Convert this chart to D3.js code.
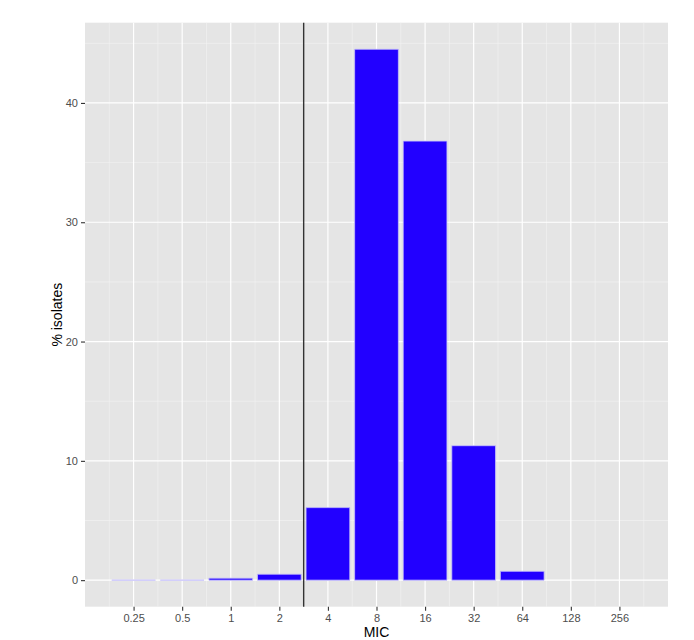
<!DOCTYPE html>
<html>
<head>
<meta charset="utf-8">
<script src="https://cdn.jsdelivr.net/npm/d3@7"></script>
<style>
  body{margin:0;background:#fff;}
  text{font-family:"Liberation Sans",Arial,sans-serif;}
</style>
</head>
<body>
<div id="chart"></div>
<script>
// MIC values with measured isolates (%)
const mic = [0.25, 0.5, 1, 2, 4, 8, 16, 32, 64]
const pct = [0, 0, 0.17, 0.5, 6.08, 44.5, 36.8, 11.27, 0.74]
const xTicks = [0.25, 0.5, 1, 2, 4, 8, 16, 32, 64, 128, 256]
const yTicks = [0, 10, 20, 30, 40]
const breakpoint = 2.83

let width = 694,
    height = 640,
    margin = {top:22.7, left:85, right:26, bottom:33.3},
    barHalf = 0.45  // half bar width in log2 units

const svg = d3.select("#chart").append("svg")
  .attr("width",width).attr("height",height)

const x = d3.scaleLog().base(2)
  .domain([0.125, 512])
  .range([margin.left, width - margin.right])

const ymax = d3.max(pct)
const y = d3.scaleLinear()
  .domain([-ymax*0.05, ymax*1.05])
  .range([height - margin.bottom, margin.top])

// panel
svg.append("rect")
  .attr("x",margin.left).attr("y",margin.top)
  .attr("width",width - margin.left - margin.right)
  .attr("height",height - margin.top - margin.bottom)
  .attr("fill","#e5e5e5")

// minor grid
const xMinor = d3.range(-2.5, 9, 1).map(v=>Math.pow(2,v))
const yMinor = [5, 15, 25, 35, 45]
svg.append("g").selectAll("line").data(xMinor).join("line")
  .attr("x1",d=>x(d)).attr("x2",d=>x(d))
  .attr("y1",margin.top).attr("y2",height - margin.bottom)
  .attr("stroke","#f4f4f4").attr("stroke-width",0.6)
svg.append("g").selectAll("line").data(yMinor).join("line")
  .attr("x1",margin.left).attr("x2",width - margin.right)
  .attr("y1",d=>y(d)).attr("y2",d=>y(d))
  .attr("stroke","#f4f4f4").attr("stroke-width",0.6)

// major grid
svg.append("g").selectAll("line").data(xTicks).join("line")
  .attr("x1",d=>x(d)).attr("x2",d=>x(d))
  .attr("y1",margin.top).attr("y2",height - margin.bottom)
  .attr("stroke","#fff").attr("stroke-width",1.2)
svg.append("g").selectAll("line").data(yTicks).join("line")
  .attr("x1",margin.left).attr("x2",width - margin.right)
  .attr("y1",d=>y(d)).attr("y2",d=>y(d))
  .attr("stroke","#fff").attr("stroke-width",1.2)

// bars (path so zero-height bars still show their outline)
svg.append("g").selectAll("path").data(mic).join("path")
  .attr("d",(d,i)=>{
    const x0 = x(d*Math.pow(2,-barHalf)), x1 = x(d*Math.pow(2,barHalf))
    const y0 = y(0), y1 = y(pct[i])
    return `M${x0},${y0}L${x1},${y0}L${x1},${y1}L${x0},${y1}Z`
  })
  .attr("fill","#2200ff")
  .attr("stroke","#c7c0fa")
  .attr("stroke-width",0.8)

// breakpoint line
svg.append("line")
  .attr("x1",x(breakpoint)).attr("x2",x(breakpoint))
  .attr("y1",margin.top).attr("y2",height - margin.bottom)
  .attr("stroke","#333").attr("stroke-width",1.4)

// axes
const xAxis = d3.axisBottom(x).tickValues(xTicks).tickFormat(d=>String(d)).tickSize(4).tickPadding(3.5)
const yAxis = d3.axisLeft(y).tickValues(yTicks).tickSize(4).tickPadding(3)
const xGroup = svg.append("g").attr("transform",`translate(0,${height - margin.bottom})`).call(xAxis)
const yGroup = svg.append("g").attr("transform",`translate(${margin.left},0)`).call(yAxis)
xGroup.select(".domain").remove()
yGroup.select(".domain").remove()
svg.selectAll(".tick line").attr("stroke","#333").attr("stroke-width",1.1)
svg.selectAll(".tick text").attr("fill","#4d4d4d").style("font-size","11px")

// titles
svg.append("text")
  .attr("x",(margin.left + width - margin.right)/2).attr("y",636.5)
  .attr("text-anchor","middle").style("font-size","14px").attr("fill","#000")
  .text("MIC")
svg.append("text")
  .attr("transform",`translate(62,${(margin.top + height - margin.bottom)/2}) rotate(-90)`)
  .attr("text-anchor","middle").style("font-size","14px").attr("fill","#000")
  .text("% isolates")
</script>
</body>
</html>
